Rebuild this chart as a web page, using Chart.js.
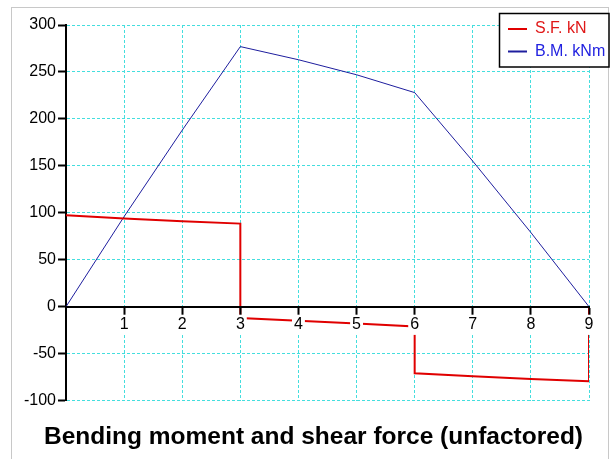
<!DOCTYPE html>
<html><head><meta charset="utf-8">
<script src="https://cdn.jsdelivr.net/npm/chart.js@4/dist/chart.umd.min.js"></script>
<style>html,body{margin:0;padding:0;background:#fff;}</style>
</head><body>
<canvas id="c" width="616" height="459"></canvas>
<script>
// ---- data ----
const titleText = 'Bending moment and shear force (unfactored)';
const sfLabel = 'S.F. kN';
const bmLabel = 'B.M. kNm';
const sfX = [0, 1, 2, 3, 3, 4, 5, 6, 6, 7, 8, 9, 9];
const sfY = [97.5, 94, 91, 88.5, -12, -15, -18, -21, -71, -74, -77, -79.5, 0];
const bmX = [0, 1, 2, 3, 4, 5, 6, 7, 8, 9];
const bmY = [0, 96, 188, 277, 263, 247, 228, 155, 79, 0];
const xRange = [0, 9];
const xStep = 1;
const yRange = [-100, 300];
const yStep = 50;

// ---- styles ----
const FONT = '"Liberation Sans", Arial, sans-serif';
const gridColor = '#44dede';
const sfColor = '#e00000';
const bmColor = '#1e1e9e';

const toPts = (xs, ys) => xs.map((x, i) => ({x: x, y: ys[i]}));

const framePlugin = {
  id: 'frame',
  beforeDraw(chart) {
    const ctx = chart.ctx;
    ctx.save();
    ctx.fillStyle = '#fff';
    ctx.fillRect(0, 0, chart.width, chart.height);
    ctx.strokeStyle = '#c8c8c8';
    ctx.lineWidth = 1;
    ctx.strokeRect(11.5, 7.5, 597, 470);
    ctx.restore();
  }
};

const legendPlugin = {
  id: 'boxLegend',
  afterDraw(chart) {
    const ctx = chart.ctx;
    const ds = chart.data.datasets;
    const textColors = ['#e01818', '#2222e0'];
    ctx.save();
    ctx.fillStyle = '#fff';
    ctx.fillRect(499, 13, 110, 54);
    ctx.strokeStyle = '#000';
    ctx.lineWidth = 1.5;
    ctx.strokeRect(499.5, 13.5, 109.5, 53.5);
    ctx.font = '16px ' + FONT;
    ctx.textBaseline = 'middle';
    ds.forEach((d, i) => {
      const y = 29 + i * 22.5;
      ctx.strokeStyle = d.borderColor;
      ctx.lineWidth = 2;
      ctx.beginPath();
      ctx.moveTo(508, y);
      ctx.lineTo(527, y);
      ctx.stroke();
      ctx.fillStyle = textColors[i];
      ctx.fillText(d.label, 535, y);
    });
    ctx.restore();
  }
};

new Chart(document.getElementById('c'), {
  type: 'scatter',
  data: {
    datasets: [
      {label: sfLabel, data: toPts(sfX, sfY), showLine: true, borderColor: sfColor, borderWidth: 2,
       pointRadius: 0, fill: false, tension: 0, xAxisID: 'x', yAxisID: 'y'},
      {label: bmLabel, data: toPts(bmX, bmY), showLine: true, borderColor: bmColor, borderWidth: 1,
       pointRadius: 0, fill: false, tension: 0, xAxisID: 'x', yAxisID: 'y'}
    ]
  },
  options: {
    responsive: false,
    devicePixelRatio: 1,
    animation: false,
    layout: {padding: {left: 11, right: 0, top: 25, bottom: 0}},
    plugins: {
      legend: {display: false},
      tooltip: {enabled: false},
      title: {display: true, text: titleText, position: 'bottom', color: '#000',
              font: {family: FONT, size: 24.5, weight: 'bold', lineHeight: 1.2},
              padding: {top: 22, bottom: 7}}
    },
    scales: {
      x: {
        axis: 'x', type: 'linear', position: 'bottom', min: xRange[0], max: xRange[1],
        ticks: {display: false, stepSize: xStep},
        grid: {color: gridColor, lineWidth: 1, drawTicks: false},
        border: {display: false, dash: [3, 2]},
        afterFit: s => { s.height = 0; }
      },
      xAxis: {
        axis: 'x', type: 'linear', position: {y: 0}, min: xRange[0], max: xRange[1],
        afterBuildTicks: s => { s.ticks = s.ticks.filter(t => t.value !== 0); },
        ticks: {stepSize: xStep, color: '#000', font: {family: FONT, size: 16}, padding: 1, z: 1,
                showLabelBackdrop: true, backdropColor: '#fff',
                backdropPadding: {top: 0, bottom: 1, left: 2, right: 2}},
        grid: {drawOnChartArea: false, drawTicks: true, tickLength: 7, tickColor: '#000', tickWidth: 2, z: 1},
        border: {color: '#000', width: 2, z: 1},
        afterFit: s => { s.height = 0; }
      },
      y: {
        axis: 'y', type: 'linear', position: 'left', min: yRange[0], max: yRange[1],
        ticks: {stepSize: yStep, color: '#000', font: {family: FONT, size: 16}, padding: 2},
        grid: {color: gridColor, lineWidth: 1, tickColor: '#000', tickWidth: 2, tickLength: 8},
        border: {color: '#000', width: 2, dash: [3, 2]},
        afterFit: s => { s.width = 55; }
      },
      yR: {
        axis: 'y', type: 'linear', position: 'right', min: yRange[0], max: yRange[1],
        ticks: {display: false}, grid: {display: false}, border: {display: false},
        afterFit: s => { s.width = 27; }
      }
    }
  },
  plugins: [framePlugin, legendPlugin]
});
</script>
</body></html>
